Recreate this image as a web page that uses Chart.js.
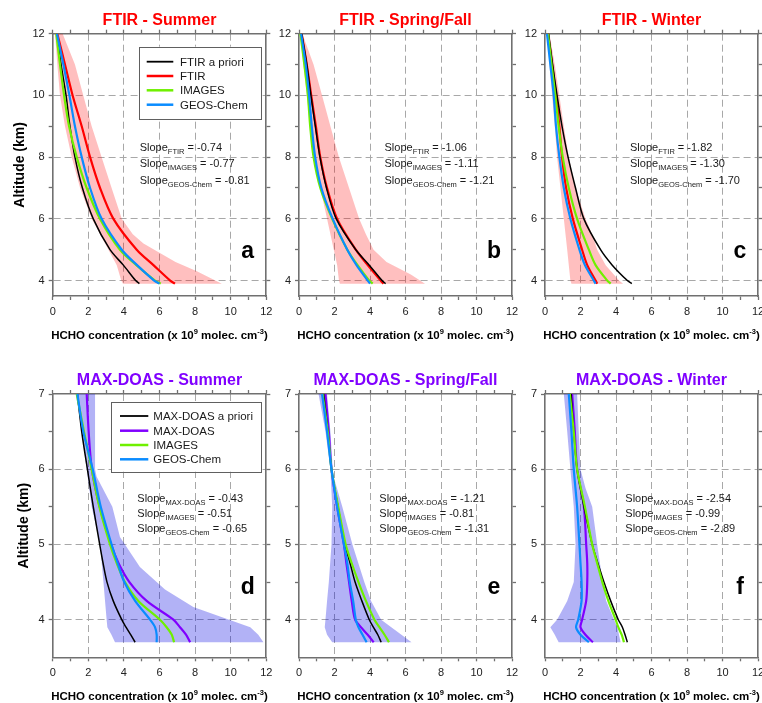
<!DOCTYPE html>
<html><head><meta charset="utf-8">
<script src="https://cdn.jsdelivr.net/npm/chart.js@4.4.1/dist/chart.umd.min.js"></script>
<style>
html,body{margin:0;padding:0;background:#fff;}
#wrap{position:relative;width:762px;height:703px;overflow:hidden;background:#fff;}
#wrap canvas{position:absolute;left:0;top:0;}
</style></head><body><div id="wrap"></div>
<script>
// ---------------- data ----------------
const xTickValues = [0,1,2,3,4,5,6,7,8,9,10,11,12];
const xLabeled = [0,2,4,6,8,10,12];
const xGrid = [2,4,6,8,10];
const yTickFTIR = [4,5,6,7,8,9,10,11,12];
const yLabeledFTIR = [4,6,8,10,12];
const yGridFTIR = [4,6,8,10];
const yTickMAXDOAS = [4,4.5,5,5.5,6,6.5,7];
const yLabeledMAXDOAS = [4,5,6,7];
const yGridMAXDOAS = [4,5,6];

const seriesFTIR = ['FTIR a priori','FTIR','IMAGES','GEOS-Chem'];
const seriesMAXDOAS = ['MAX-DOAS a priori','MAX-DOAS','IMAGES','GEOS-Chem'];
const slopeNamesFTIR = ['FTIR','IMAGES','GEOS-Chem'];
const slopeNamesMAXDOAS = ['MAX-DOAS','IMAGES','GEOS-Chem'];

const altFTIR = [12, 11, 10, 9, 8, 7, 6, 5, 4.5, 4, 3.9];
const altMAXDOAS = [7, 6.5, 6, 5.5, 5, 4.75, 4.5, 4.25, 4, 3.9, 3.8, 3.7];

// (a) FTIR - Summer
const aApriori = [0.22, 0.47, 0.75, 0.97, 1.25, 1.67, 2.28, 3.22, 3.97, 4.66, 4.87];
const aFTIR    = [0.26, 0.69, 1.12, 1.63, 2.10, 2.66, 3.41, 4.72, 5.66, 6.60, 6.87];
const aIMAGES  = [0.20, 0.41, 0.64, 0.92, 1.35, 1.91, 2.66, 3.78, 4.70, 5.75, 6.07];
const aGEOS    = [0.24, 0.60, 0.94, 1.25, 1.63, 2.10, 2.75, 3.88, 4.74, 5.70, 6.00];
const aLo      = [0.13, 0.26, 0.41, 0.69, 1.07, 1.54, 2.19, 3.13, 3.60, 3.85, 3.95];
const aHiAlt   = [12, 11, 10, 9, 8, 7, 6, 5.5, 5.2, 4.6, 4.3, 3.9];
const aHi      = [0.56, 1.25, 1.72, 2.19, 2.75, 3.31, 3.88, 4.50, 5.10, 6.90, 8.10, 9.50];
const aSlopes  = [-0.74, -0.77, -0.81];

// (b) FTIR - Spring/Fall
const bApriori = [0.15, 0.44, 0.67, 0.92, 1.18, 1.55, 2.10, 3.20, 3.96, 4.68, 4.88];
const bFTIR    = [0.15, 0.44, 0.69, 0.95, 1.20, 1.58, 2.15, 3.20, 3.87, 4.60, 4.76];
const bIMAGES  = [0.08, 0.30, 0.50, 0.63, 0.82, 1.20, 1.87, 2.72, 3.30, 3.96, 4.15];
const bGEOS    = [0.12, 0.38, 0.57, 0.72, 0.91, 1.26, 1.90, 2.72, 3.24, 3.87, 4.00];
const bLo      = [0.06, 0.25, 0.44, 0.63, 0.88, 1.20, 1.58, 1.96, 2.15, 2.25, 2.30];
const bHiAlt   = [12, 11, 10, 9, 8, 7, 6, 5.5, 5, 4.6, 4.2, 3.9];
const bHi      = [0.19, 0.82, 1.30, 1.77, 2.25, 2.82, 3.39, 3.77, 4.20, 4.93, 6.30, 7.10];
const bSlopes  = [-1.06, -1.11, -1.21];

// (c) FTIR - Winter
const cApriori = [0.20, 0.43, 0.68, 0.96, 1.30, 1.72, 2.19, 3.13, 3.79, 4.64, 4.89];
const cFTIR    = [0.17, 0.40, 0.62, 0.81, 0.96, 1.19, 1.57, 2.09, 2.38, 2.85, 2.94];
const cIMAGES  = [0.17, 0.37, 0.58, 0.77, 1.00, 1.34, 1.81, 2.47, 2.85, 3.51, 3.70];
const cGEOS    = [0.11, 0.30, 0.49, 0.62, 0.81, 1.06, 1.43, 1.94, 2.25, 2.75, 2.85];
const cLo      = [0.11, 0.25, 0.40, 0.55, 0.68, 0.87, 1.06, 1.25, 1.34, 1.43, 1.49];
const cHiAlt   = [12, 11, 10, 9, 8, 7, 6, 5.5, 5, 4.5, 4, 3.9];
const cHi      = [0.25, 0.55, 0.81, 1.06, 1.34, 1.72, 2.28, 2.66, 2.94, 3.42, 4.17, 4.40];
const cSlopes  = [-1.82, -1.30, -1.70];

// (d) MAX-DOAS - Summer
const dApriori = [1.39, 1.63, 1.95, 2.28, 2.64, 2.83, 3.05, 3.40, 3.88, 4.12, 4.38, 4.63];
const dMAXDOAS = [1.91, 2.02, 2.20, 2.64, 3.28, 3.70, 4.31, 5.28, 6.78, 7.15, 7.49, 7.72];
const dIMAGES  = [1.35, 1.76, 2.19, 2.62, 3.22, 3.60, 4.06, 4.81, 6.03, 6.40, 6.69, 6.82];
const dGEOS    = [1.39, 1.72, 2.25, 2.70, 3.31, 3.65, 4.02, 4.63, 5.47, 5.75, 5.84, 5.84];
const dLoAlt   = [7, 6.5, 6, 5.5, 5, 4.5, 4.25, 4, 3.9, 3.8, 3.7];
const dLo      = [1.30, 1.63, 1.91, 2.19, 2.66, 2.85, 2.94, 3.03, 3.07, 3.30, 3.50];
const dHiAlt   = [7, 6.5, 6, 5.9, 5.5, 5.1, 4.7, 4.4, 4.17, 3.9, 3.8, 3.7];
const dHi      = [2.38, 2.38, 2.38, 2.47, 3.35, 3.78, 4.90, 6.31, 7.90, 11.10, 11.55, 11.84];
const dSlopes  = [-0.43, -0.51, -0.65];

// (e) MAX-DOAS - Spring/Fall
const eApriori = [1.39, 1.63, 1.83, 2.20, 2.59, 2.88, 3.16, 3.54, 3.96, 4.19, 4.44, 4.63];
const eMAXDOAS = [1.49, 1.68, 1.83, 2.15, 2.53, 2.67, 2.82, 2.97, 3.16, 3.49, 3.87, 4.21];
const eIMAGES  = [1.33, 1.62, 1.83, 2.21, 2.63, 2.97, 3.35, 3.77, 4.25, 4.53, 4.82, 5.07];
const eGEOS    = [1.30, 1.58, 1.83, 2.15, 2.53, 2.72, 2.86, 3.05, 3.20, 3.35, 3.58, 3.81];
const eLoAlt   = [7, 6.5, 6, 5.5, 5, 4.5, 4.25, 4, 3.9, 3.8, 3.7];
const eLo      = [1.10, 1.49, 1.77, 1.87, 1.83, 1.68, 1.58, 1.49, 1.45, 1.58, 1.87];
const eHiAlt   = [7, 6.5, 6, 5.9, 5.5, 5, 4.5, 4.25, 4, 3.9, 3.8, 3.7];
const eHi      = [1.58, 1.77, 1.90, 1.95, 2.44, 3.01, 3.68, 4.06, 4.63, 5.20, 5.77, 6.34];
const eSlopes  = [-1.21, -0.81, -1.31];

// (f) MAX-DOAS - Winter
const fApriori = [1.47, 1.62, 1.81, 2.20, 2.66, 2.98, 3.32, 3.70, 4.13, 4.36, 4.51, 4.64];
const fMAXDOAS = [1.53, 1.68, 1.81, 2.19, 2.32, 2.38, 2.38, 2.32, 2.09, 2.00, 2.28, 2.70];
const fIMAGES  = [1.40, 1.62, 1.81, 2.25, 2.66, 2.94, 3.23, 3.57, 3.98, 4.13, 4.32, 4.45];
const fGEOS    = [1.34, 1.49, 1.62, 1.81, 1.94, 2.00, 2.06, 2.06, 1.87, 1.75, 2.00, 2.47];
const fLoAlt   = [7, 6.5, 6, 5.5, 5, 4.5, 4.25, 4, 3.9, 3.8, 3.7];
const fLo      = [1.06, 1.25, 1.43, 1.62, 1.72, 1.62, 1.25, 0.68, 0.30, 0.55, 0.77];
const fHiAlt   = [7, 6.5, 6, 5.75, 5.5, 5, 4.5, 4.25, 4, 3.9, 3.8, 3.7];
const fHi      = [1.81, 1.90, 2.00, 2.28, 2.66, 2.94, 3.25, 3.45, 3.89, 4.08, 4.17, 4.26];
const fSlopes  = [-2.54, -0.99, -2.89];

// ---------------- styling ----------------
const FONT = '"Liberation Sans", Arial, Helvetica, sans-serif';
const COL = {black:'#000000', red:'#ff0000', green:'#6ff000', blue:'#0a8cff', purple:'#8000ff',
             pink:'rgba(255,0,0,0.25)', lav:'rgba(0,0,225,0.30)'};
const AXIS = '#707070', GRID = '#a8a8a8', TXT = '#1a1a1a';
const CW = 900, CH = 760;

function pts(xs, alts){ return xs.map((v,i)=>({x:v, y:alts[i]})); }
function shape(lo, loAlt, hi, hiAlt){
  return pts(lo, loAlt).concat(pts(hi, hiAlt).reverse());
}

const rowTop = {T:33.7, B:296, yMin:3.5, yMax:12, yTicks:yTickFTIR, yLab:yLabeledFTIR, yGrid:yGridFTIR, alt:altFTIR,
             names:seriesFTIR, slopeNames:slopeNamesFTIR, color:COL.red, line2:COL.red, shade:COL.pink,
             slopeY:[117,133.5,150], letterY:224.5, legendBox:[86,208.3,13,85.3], legendRows:[28,42.3,56.6,71], legendLine:[94,120.6,127.3]};
const rowBot = {T:394, B:657.3, yMin:3.5, yMax:7, yTicks:yTickMAXDOAS, yLab:yLabeledMAXDOAS, yGrid:yGridMAXDOAS, alt:altMAXDOAS,
             names:seriesMAXDOAS, slopeNames:slopeNamesMAXDOAS, color:COL.purple, line2:COL.purple, shade:COL.lav,
             slopeY:[107.5,122.5,137.5], letterY:200, legendBox:[58.3,208.3,7.7,77.7], legendRows:[22,36.7,51,65.3], legendLine:[67.3,95.6,100.6]};

const panels = [
  {row:rowTop, L:52.7, R:266.3, title:'FTIR - Summer', letter:'a', legend:true, yTitle:true, yTitleDx:-32.5, slopeDx:87,
   series:[aApriori,aFTIR,aIMAGES,aGEOS], slopes:aSlopes, shade:shape(aLo, altFTIR, aHi, aHiAlt)},
  {row:rowTop, L:299, R:512, title:'FTIR - Spring/Fall', letter:'b', slopeDx:85.5,
   series:[bApriori,bFTIR,bIMAGES,bGEOS], slopes:bSlopes, shade:shape(bLo, altFTIR, bHi, bHiAlt)},
  {row:rowTop, L:545, R:758, title:'FTIR - Winter', letter:'c', slopeDx:85,
   series:[cApriori,cFTIR,cIMAGES,cGEOS], slopes:cSlopes, shade:shape(cLo, altFTIR, cHi, cHiAlt)},
  {row:rowBot, L:52.7, R:266.3, title:'MAX-DOAS - Summer', letter:'d', legend:true, yTitle:true, yTitleDx:-29, slopeDx:84.6,
   series:[dApriori,dMAXDOAS,dIMAGES,dGEOS], slopes:dSlopes, shade:shape(dLo, dLoAlt, dHi, dHiAlt)},
  {row:rowBot, L:299, R:512, title:'MAX-DOAS - Spring/Fall', letter:'e', slopeDx:80.3,
   series:[eApriori,eMAXDOAS,eIMAGES,eGEOS], slopes:eSlopes, shade:shape(eLo, eLoAlt, eHi, eHiAlt)},
  {row:rowBot, L:545, R:758, title:'MAX-DOAS - Winter', letter:'f', slopeDx:80.3,
   series:[fApriori,fMAXDOAS,fIMAGES,fGEOS], slopes:fSlopes, shade:shape(fLo, fLoAlt, fHi, fHiAlt)},
];

function drawXTitle(ctx, cx, y){
  const main = `bold 11.5px ${FONT}`, sup = `bold 7.5px ${FONT}`;
  const parts = [['HCHO concentration (x 10',main,0],['9',sup,-5],[' molec. cm',main,0],['-3',sup,-5],[')',main,0]];
  let w = 0;
  parts.forEach(p=>{ctx.font=p[1]; p.push(ctx.measureText(p[0]).width); w+=p[3];});
  let x = cx - w/2;
  ctx.textAlign='left'; ctx.textBaseline='alphabetic'; ctx.fillStyle='#000';
  parts.forEach(p=>{ctx.font=p[1]; ctx.fillText(p[0], x, y+p[2]); x+=p[3];});
}

const textPlugin = {
  id:'panelText',
  afterDraw(chart, args, opts){
    const p = opts.panel, r = p.row, ca = chart.chartArea, ctx = chart.ctx;
    const cx = (ca.left+ca.right)/2;
    ctx.save();
    ctx.font = `bold 16px ${FONT}`; ctx.fillStyle = r.color; ctx.textAlign='center'; ctx.textBaseline='alphabetic';
    ctx.fillText(p.title, cx, ca.top - 9);
    drawXTitle(ctx, cx, ca.bottom + 43);
    if (p.yTitle){
      ctx.save();
      ctx.translate(ca.left + p.yTitleDx, (ca.top+ca.bottom)/2);
      ctx.rotate(-Math.PI/2);
      ctx.font = `bold 14px ${FONT}`; ctx.fillStyle='#000'; ctx.textAlign='center'; ctx.textBaseline='middle';
      ctx.fillText('Altitude (km)', 0, 0);
      ctx.restore();
    }
    if (p.legend){
      const b = r.legendBox;
      ctx.fillStyle='#fff'; ctx.fillRect(ca.left+b[0], ca.top+b[2], b[1]-b[0], b[3]-b[2]);
      ctx.strokeStyle='#606060'; ctx.lineWidth=1;
      ctx.strokeRect(Math.round(ca.left+b[0])+0.5, Math.round(ca.top+b[2])+0.5, Math.round(b[1]-b[0]), Math.round(b[3]-b[2]));
      const ds = chart.data.datasets;
      r.names.forEach((nm,i)=>{
        const d = ds[i];
        const yy = ca.top + r.legendRows[i];
        ctx.strokeStyle = d.borderColor; ctx.lineWidth = d.borderWidth + 0.3;
        ctx.beginPath(); ctx.moveTo(ca.left+r.legendLine[0], yy); ctx.lineTo(ca.left+r.legendLine[1], yy); ctx.stroke();
        ctx.font = `11.5px ${FONT}`; ctx.fillStyle=TXT; ctx.textAlign='left'; ctx.textBaseline='alphabetic';
        ctx.fillText(nm, ca.left+r.legendLine[2], yy+4);
      });
    }
    r.slopeNames.forEach((nm,i)=>{
      let x = ca.left + p.slopeDx, y = ca.top + r.slopeY[i];
      ctx.textAlign='left'; ctx.textBaseline='alphabetic'; ctx.fillStyle=TXT;
      ctx.font = `11px ${FONT}`; ctx.fillText('Slope', x, y); x += ctx.measureText('Slope').width;
      ctx.font = `7.5px ${FONT}`; ctx.fillText(nm, x, y+3); x += ctx.measureText(nm).width;
      ctx.font = `11px ${FONT}`; ctx.fillText(' = ' + p.slopes[i].toFixed(2), x, y);
    });
    ctx.font = `bold 23px ${FONT}`; ctx.fillStyle='#000'; ctx.textAlign='center'; ctx.textBaseline='alphabetic';
    ctx.fillText(p.letter, ca.left + 195, ca.top + r.letterY);
    ctx.restore();
  }
};

const wrap = document.getElementById('wrap');
panels.forEach(p=>{
  const r = p.row;
  const cv = document.createElement('canvas');
  cv.width = CW; cv.height = CH; cv.style.width = CW+'px'; cv.style.height = CH+'px';
  wrap.appendChild(cv);
  const colors = [COL.black, r.line2, COL.green, COL.blue];
  const widths = [1.5, 2.2, 2.2, 2.2];
  const orders = [3, 4, 2, 1];
  const datasets = p.series.map((s,i)=>({
    label: r.names[i], data: pts(s, r.alt), showLine:true, borderColor: colors[i], borderWidth: widths[i],
    pointRadius:0, tension:0.3, fill:false, order: orders[i]
  }));
  datasets.push({label:'range', data:p.shade, showLine:true, borderWidth:0, borderColor:'rgba(0,0,0,0)',
    backgroundColor:r.shade, pointRadius:0, tension:0, fill:'shape', order:10});
  const gridCol = list => (ctx => (ctx.tick && list.includes(ctx.tick.value)) ? GRID : 'rgba(0,0,0,0)');
  new Chart(cv, {
    type:'scatter',
    data:{datasets},
    options:{
      responsive:false, animation:false, devicePixelRatio:1, events:[],
      layout:{padding:{left:p.L-40, right:CW-p.R-8, top:r.T-8, bottom:CH-r.B-30}},
      plugins:{legend:{display:false}, tooltip:{enabled:false}, title:{display:false}, panelText:{panel:p}},
      scales:{
        x:{type:'linear', position:'bottom', min:0, max:12,
           afterBuildTicks:s=>{s.ticks = xTickValues.map(v=>({value:v}));},
           afterFit:s=>{s.height=30;},
           ticks:{autoSkip:false, maxRotation:0, padding:5, color:'#222', font:{family:FONT,size:11},
                  callback:v=> xLabeled.includes(v) ? String(v) : ''},
           grid:{color:gridCol(xGrid), tickColor:AXIS, tickLength:4, lineWidth:1, tickWidth:1.3, tickBorderDash:[]},
           border:{display:true, color:AXIS, width:1.6, dash:[7,4]}},
        xTop:{type:'linear', position:'top', min:0, max:12,
           afterBuildTicks:s=>{s.ticks = xTickValues.map(v=>({value:v}));},
           afterFit:s=>{s.height=8;},
           ticks:{display:false},
           grid:{drawOnChartArea:false, color:'rgba(0,0,0,0)', tickColor:AXIS, tickLength:4, tickWidth:1.3},
           border:{display:true, color:AXIS, width:1.6}},
        y:{type:'linear', position:'left', min:r.yMin, max:r.yMax,
           afterBuildTicks:s=>{s.ticks = r.yTicks.map(v=>({value:v}));},
           afterFit:s=>{s.width=40;},
           ticks:{autoSkip:false, padding:4, color:'#222', font:{family:FONT,size:11},
                  callback:v=> r.yLab.includes(v) ? String(v) : ''},
           grid:{color:gridCol(r.yGrid), tickColor:AXIS, tickLength:4, lineWidth:1, tickWidth:1.3, tickBorderDash:[]},
           border:{display:true, color:AXIS, width:1.6, dash:[7,4]}},
        yRight:{type:'linear', position:'right', min:r.yMin, max:r.yMax,
           afterBuildTicks:s=>{s.ticks = r.yTicks.map(v=>({value:v}));},
           afterFit:s=>{s.width=8;},
           ticks:{display:false},
           grid:{drawOnChartArea:false, color:'rgba(0,0,0,0)', tickColor:AXIS, tickLength:4, tickWidth:1.3},
           border:{display:true, color:AXIS, width:1.6}}
      }
    },
    plugins:[textPlugin]
  });
});
</script></body></html>
